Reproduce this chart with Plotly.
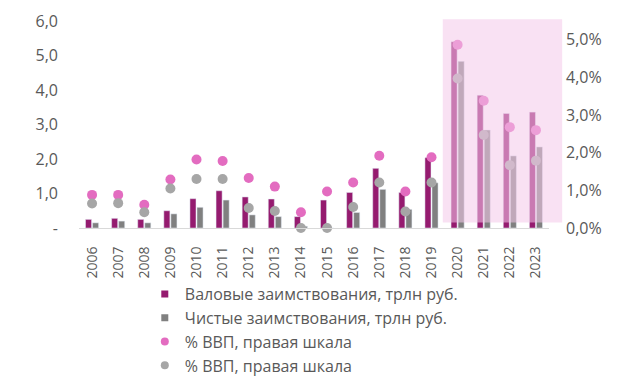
import plotly.graph_objects as go

years = [str(y) for y in range(2006, 2024)]
gross = [0.25, 0.28, 0.25, 0.50, 0.85, 1.08, 0.90, 0.84, 0.33, 0.81, 1.03, 1.73, 1.03, 2.04, 5.40, 3.85, 3.32, 3.36]
net = [0.15, 0.20, 0.15, 0.41, 0.60, 0.81, 0.38, 0.33, 0.05, 0.00, 0.45, 1.12, 0.54, 1.31, 4.83, 2.84, 2.09, 2.35]
gross_gdp = [0.88, 0.88, 0.62, 1.29, 1.82, 1.78, 1.33, 1.10, 0.42, 0.97, 1.21, 1.92, 0.97, 1.88, 4.87, 3.38, 2.68, 2.60]
net_gdp = [0.65, 0.66, 0.42, 1.05, 1.30, 1.30, 0.53, 0.45, 0.00, 0.00, 0.56, 1.21, 0.44, 1.21, 3.97, 2.47, 1.67, 1.79]

left_ticks = [0, 1, 2, 3, 4, 5, 6]
left_labels = ["-", "1,0", "2,0", "3,0", "4,0", "5,0", "6,0"]
right_ticks = [0, 1, 2, 3, 4, 5]
right_labels = ["0,0%", "1,0%", "2,0%", "3,0%", "4,0%", "5,0%"]

names = ["Валовые заимствования, трлн руб.", "Чистые заимствования, трлн руб.",
         "% ВВП, правая шкала", "% ВВП, правая шкала"]
colors = ["#951B6F", "#808080", "#E36CC0", "#A6A6A6"]

FONT = "Open Sans"
TXT = "#595959"

fig = go.Figure()
fig.add_trace(go.Bar(x=years, y=gross, name=names[0], marker_color=colors[0], showlegend=False))
fig.add_trace(go.Bar(x=years, y=net, name=names[1], marker_color=colors[1], showlegend=False))
fig.add_trace(go.Scatter(x=years, y=gross_gdp, name=names[2], mode="markers", yaxis="y2",
                         marker=dict(color=colors[2], size=10), cliponaxis=False, showlegend=False))
fig.add_trace(go.Scatter(x=years, y=net_gdp, name=names[3], mode="markers", yaxis="y2",
                         marker=dict(color=colors[3], size=10), cliponaxis=False, showlegend=False))

# legend entries (small square / round symbols as in the reference)
symbols = ["square", "square", "circle", "circle"]
sizes = [7, 7, 8, 8]
for n, c, s, sz in zip(names, colors, symbols, sizes):
    fig.add_trace(go.Scatter(x=[None], y=[None], mode="markers", name=n,
                             marker=dict(color=c, symbol=s, size=sz)))

fig.add_shape(type="rect", xref="paper", yref="paper", x0=0.774, x1=1.028, y0=0.026, y1=1.008,
              fillcolor="rgba(244,200,234,0.55)", line_width=0, layer="above")

fig.update_layout(
    width=612, height=372,
    margin=dict(l=71, r=71, t=13, b=152, autoexpand=False),
    paper_bgcolor="white", plot_bgcolor="white",
    font=dict(family=FONT, size=15, color=TXT),
    barmode="group", bargap=0.46, bargroupgap=0.14,
    showlegend=True,
    legend=dict(x=0.14, y=-0.237, xanchor="left", yanchor="top", orientation="v",
                font=dict(family=FONT, size=16, color=TXT), itemwidth=30,
                tracegroupgap=0, bgcolor="rgba(0,0,0,0)"),
    xaxis=dict(type="category", range=[-0.5, 17.5], tickangle=-90, showgrid=False,
               showline=True, linecolor="#D9D9D9", linewidth=1, ticks="",
               ticklabelstandoff=12, automargin=False, tickfont=dict(size=14, color=TXT)),
    yaxis=dict(range=[0, 6], tickvals=left_ticks, ticktext=left_labels, showgrid=False,
               zeroline=False, showline=False, ticks="", ticklabelstandoff=20,
               automargin=False, tickfont=dict(size=16, color=TXT)),
    yaxis2=dict(range=[0, 5.5], overlaying="y", side="right", tickvals=right_ticks,
                ticktext=right_labels, showgrid=False, zeroline=False, showline=False,
                ticks="", ticklabelstandoff=16, automargin=False,
                tickfont=dict(size=16, color=TXT)),
)

fig.write_html("out.html")
